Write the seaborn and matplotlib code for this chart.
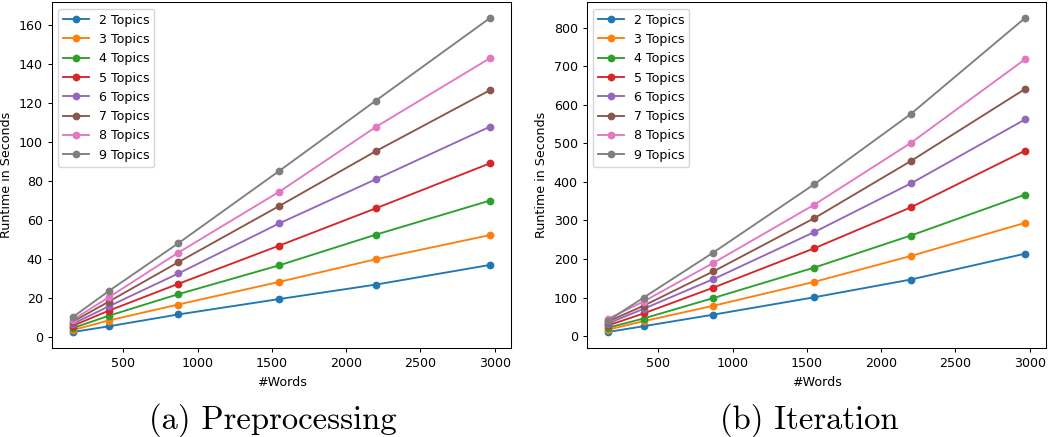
import numpy as np
import pandas as pd
import matplotlib
matplotlib.use("Agg")
import matplotlib.pyplot as plt
import seaborn as sns

words = [160, 400, 870, 1550, 2200, 2970]
topics = ["2 Topics", "3 Topics", "4 Topics", "5 Topics",
          "6 Topics", "7 Topics", "8 Topics", "9 Topics"]

prep_2 = [2.4, 5.3, 11.4, 19.3, 26.7, 36.8]
prep_3 = [3.4, 8.3, 16.5, 28.1, 39.7, 52.1]
prep_4 = [4.4, 10.7, 21.8, 36.6, 52.3, 69.8]
prep_5 = [5.6, 13.3, 27.1, 46.7, 65.8, 88.9]
prep_6 = [6.6, 15.5, 32.4, 58.1, 80.7, 107.7]
prep_7 = [7.7, 17.9, 38.2, 67.0, 95.1, 126.4]
prep_8 = [8.7, 20.1, 43.1, 74.3, 107.5, 142.8]
prep_9 = [10.1, 23.3, 47.9, 85.0, 121.0, 163.4]

iter_2 = [11, 26, 56, 101, 147, 214]
iter_3 = [17, 39, 79, 141, 208, 294]
iter_4 = [22, 46, 99, 178, 261, 367]
iter_5 = [28, 59, 126, 228, 334, 481]
iter_6 = [33, 71, 148, 270, 396, 562]
iter_7 = [38, 79, 168, 306, 454, 641]
iter_8 = [45, 90, 190, 341, 501, 718]
iter_9 = [40, 100, 217, 394, 576, 825]

prep = [prep_2, prep_3, prep_4, prep_5, prep_6, prep_7, prep_8, prep_9]
iters = [iter_2, iter_3, iter_4, iter_5, iter_6, iter_7, iter_8, iter_9]

captions = ["(a) Preprocessing", "(b) Iteration"]


def long_df(series):
    rows = []
    for name, vals in zip(topics, series):
        for w, v in zip(words, vals):
            rows.append({"words": w, "runtime": v, "topics": name})
    return pd.DataFrame(rows)


plt.rcParams.update({
    "font.size": 9.1,
    "axes.linewidth": 0.75,
    "xtick.major.width": 0.75,
    "ytick.major.width": 0.75,
    "xtick.major.size": 3.2,
    "ytick.major.size": 3.2,
    "legend.fontsize": 9.1,
})

fig = plt.figure(figsize=(10.55, 4.37), dpi=100)
ax1 = fig.add_axes([0.0493, 0.2043, 0.4351, 0.7907])
ax2 = fig.add_axes([0.5564, 0.2043, 0.4351, 0.7907])

palette = sns.color_palette("tab10", len(topics))
for ax, series in zip([ax1, ax2], [prep, iters]):
    df = long_df(series)
    sns.lineplot(data=df, x="words", y="runtime", hue="topics",
                 hue_order=topics, palette=palette, marker="o",
                 markersize=5.6, markeredgewidth=0, linewidth=1.35,
                 legend=False, ax=ax)
    ax.legend(ax.lines[:len(topics)], topics, loc="upper left")
    ax.set_xlabel("#Words")
    ax.set_ylabel("Runtime in Seconds")

fig.text(272.5 / 1055, 1 - 420 / 437, captions[0], family="cmr10",
         fontsize=23.5, ha="center", va="center")
fig.text(809 / 1055, 1 - 420 / 437, captions[1], family="cmr10",
         fontsize=23.5, ha="center", va="center")

fig.savefig("out.png", dpi=100)
